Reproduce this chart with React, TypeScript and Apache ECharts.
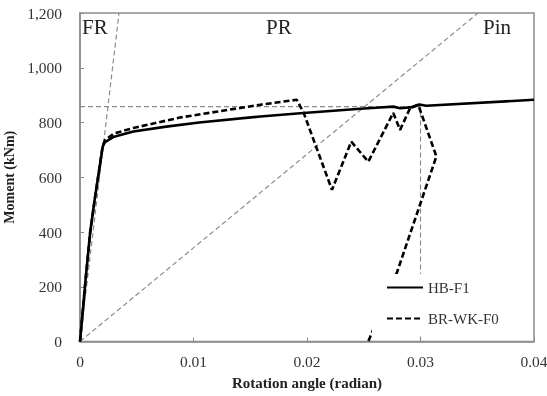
import React, { useEffect, useRef } from "react";
import * as echarts from "echarts";

const xTicks = [0, 0.01, 0.02, 0.03, 0.04];
const yTicks = [0, 200, 400, 600, 800, 1000, 1200];

const hbF1: [number, number][] = [
  [0, 0], [0.0002, 90], [0.0005, 230], [0.0009, 400], [0.0013, 520], [0.0017, 630],
  [0.002, 712], [0.0022, 728], [0.003, 748], [0.0047, 767], [0.0076, 785], [0.0105, 800],
  [0.0159, 822], [0.0194, 834], [0.0247, 850], [0.0264, 855], [0.0276, 858], [0.0282, 852],
  [0.0293, 856], [0.0299, 866], [0.0305, 861], [0.04, 883],
];

const brWkF0: [number, number][] = [
  [0, 0], [0.0002, 90], [0.0005, 230], [0.0009, 400], [0.0013, 520], [0.0017, 630],
  [0.002, 715], [0.0022, 735], [0.003, 760], [0.0047, 780], [0.0088, 818], [0.0159, 865],
  [0.0191, 883], [0.0197, 836], [0.0222, 554], [0.0239, 730], [0.0254, 657], [0.0276, 835],
  [0.0282, 773], [0.0291, 854], [0.0298, 865], [0.0314, 676], [0.0279, 249], [0.0254, 0],
];

const frLine: [number, number][] = [[0, 0], [0.00344, 1200]];
const pinLine: [number, number][] = [[0, 0], [0.03507, 1200]];
const mpLine: [number, number][] = [[0, 858], [0.03, 858]];
const limitLine: [number, number][] = [[0.03, 0], [0.03, 858]];

const zoneLabels = ["FR", "PR", "Pin"];

const FONT = "'Liberation Serif', 'Times New Roman', serif";

export default function App() {
  const ref = useRef<HTMLDivElement>(null);
  useEffect(() => {
    if (!ref.current) return;
    const chart = echarts.init(ref.current, undefined, { renderer: "svg" });
    const refStyle = { color: "#8c8c8c", width: 1.2, type: [5, 3] as any };
    const refSeries = (data: [number, number][], name: string) => ({
      name,
      type: "line",
      data,
      symbol: "none",
      silent: true,
      z: 1,
      lineStyle: refStyle,
    });
    chart.setOption({
      animation: false,
      textStyle: { fontFamily: FONT },
      grid: {
        left: 80, right: 13, top: 13, bottom: 54.5,
        show: true, borderColor: "#8c8c8c", borderWidth: 1.5,
        containLabel: false, outerBoundsMode: "none",
      },
      xAxis: {
        type: "value",
        min: xTicks[0],
        max: xTicks[xTicks.length - 1],
        interval: 0.01,
        name: "Rotation angle (radian)",
        nameLocation: "middle",
        nameGap: 34,
        nameTextStyle: { fontFamily: FONT, fontWeight: "bold", fontSize: 15, color: "#222" },
        axisLine: { lineStyle: { color: "#8c8c8c", width: 1.5 } },
        axisTick: { inside: true, length: 4, lineStyle: { color: "#8c8c8c" } },
        splitLine: { show: false },
        axisLabel: { fontFamily: FONT, fontSize: 15.5, color: "#333", margin: 12, formatter: (v: number) => (v === 0 ? "0" : v.toFixed(2)) },
      },
      yAxis: {
        type: "value",
        min: yTicks[0],
        max: yTicks[yTicks.length - 1],
        interval: 200,
        name: "Moment (kNm)",
        nameLocation: "middle",
        nameGap: 61,
        nameTextStyle: { fontFamily: FONT, fontWeight: "bold", fontSize: 14, color: "#222" },
        axisLine: { show: true, lineStyle: { color: "#8c8c8c", width: 1.5 } },
        axisTick: { show: true, inside: true, length: 4, lineStyle: { color: "#8c8c8c" } },
        splitLine: { show: false },
        axisLabel: { fontFamily: FONT, fontSize: 15.5, color: "#333", margin: 18, formatter: (v: number) => v.toLocaleString("en-US") },
      },
      legend: {
        data: ["HB-F1", "BR-WK-F0"],
        orient: "vertical",
        left: 372,
        top: 274,
        padding: [6, 10, 10, 14],
        itemWidth: 36,
        itemHeight: 14,
        itemGap: 16,
        backgroundColor: "#fff",
        itemStyle: { opacity: 0 },
        textStyle: { fontFamily: FONT, fontSize: 15, color: "#333", padding: [0, 0, 0, 0] },
      },
      series: [
        refSeries(frLine, "fr"),
        refSeries(pinLine, "pin"),
        refSeries(mpLine, "mp"),
        refSeries(limitLine, "lim"),
        {
          name: "HB-F1",
          type: "line",
          data: hbF1,
          symbol: "none",
          z: 3,
          lineStyle: { color: "#000", width: 2.6 },
          itemStyle: { color: "#000" },
        },
        {
          name: "BR-WK-F0",
          type: "line",
          data: brWkF0,
          symbol: "none",
          z: 3,
          lineStyle: { color: "#000", width: 2.6, type: [6, 3] },
          itemStyle: { color: "#000" },
        },
      ],
      graphic: [
        { type: "text", left: 82, top: 16, style: { text: zoneLabels[0], font: `21px ${FONT}`, fill: "#222" } },
        { type: "text", left: 266, top: 16, style: { text: zoneLabels[1], font: `21px ${FONT}`, fill: "#222" } },
        { type: "text", left: 483, top: 16, style: { text: zoneLabels[2], font: `21px ${FONT}`, fill: "#222" } },
      ],
    });
    return () => chart.dispose();
  }, []);
  return <div ref={ref} style={{ position: "fixed", left: 0, top: 0, width: 547, height: 396 }} />;
}
